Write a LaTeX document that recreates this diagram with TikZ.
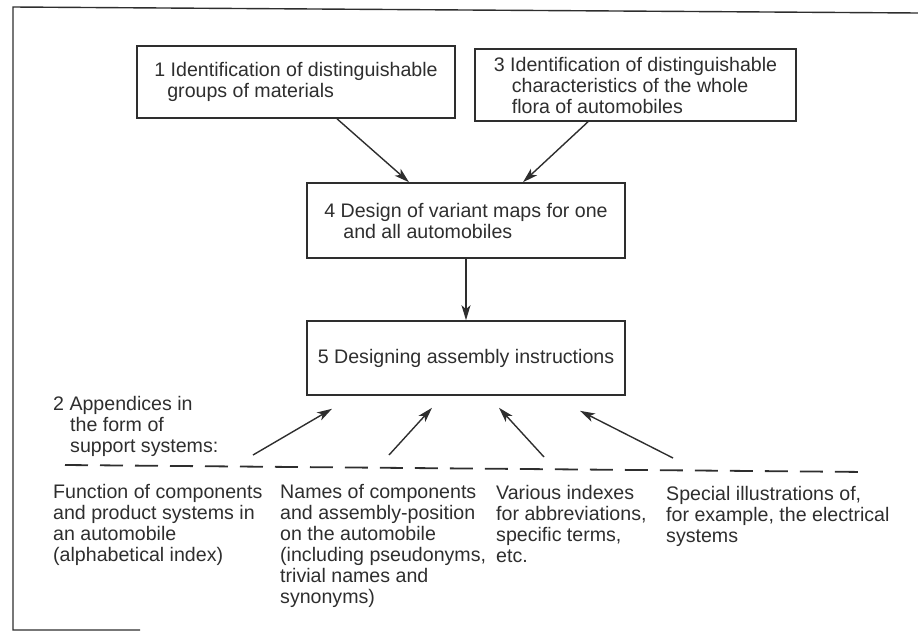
\documentclass[tikz,border=0pt]{standalone}
\usepackage{fontspec}
\setmainfont{Liberation Sans}
\usetikzlibrary{arrows.meta}
\newcommand\dtxt{\fontsize{19.6}{21}\selectfont}
\definecolor{ink}{gray}{0.18}
\begin{document}
\begin{tikzpicture}[x=1pt,y=-1pt,
  every node/.style={text=ink},
  box/.style={draw=ink, line width=1.6pt, inner sep=0pt, align=left, font=\dtxt},
  arr/.style={draw=ink, line width=1.4pt, -{Stealth[length=15pt,width=9pt,inset=4pt]}},
  lbl/.style={inner sep=0pt, anchor=base west, font=\dtxt},
  frameline/.style={draw=ink, line width=1.4pt},
  dashline/.style={draw=ink, line width=1.8pt, dash pattern=on 23pt off 12pt}]
\useasboundingbox (0,0) rectangle (918,632);
% frame
\coordinate (f1) at (13,630);
\coordinate (f2) at (13,7);
\coordinate (f3) at (918,13);
\coordinate (f4) at (140,630);
\draw[frameline] (f4) -- (f1) -- (f2) -- (f3);
% boxes
\node[box, minimum width=318pt, minimum height=72pt] (b1) at (296,82)
  {1 Identification of distinguishable\\\hspace*{13pt}groups of materials};
\node[box, minimum width=321pt, minimum height=72pt] (b3) at (635.5,85)
  {3 Identification of distinguishable\\\hspace*{18pt}characteristics of the whole\\\hspace*{18pt}flora of automobiles};
\node[box, minimum width=318pt, minimum height=75pt] (b4) at (466,220.5)
  {4 Design of variant maps for one\\\hspace*{19pt}and all automobiles};
\node[box, minimum width=318pt, minimum height=74pt] (b5) at (466,358)
  {5 Designing assembly instructions};
% arrows between boxes
\draw[arr] ([xshift=41pt]b1.south) -- ([xshift=-57pt]b4.north);
\draw[arr] ([xshift=-47.5pt]b3.south) -- ([xshift=57pt]b4.north);
\draw[arr] (b4.south) -- (b5.north);
% appendices label
\node[lbl] (app) at (53,410) {\begin{tabular}[t]{@{}l@{}}2 Appendices in\\\hspace*{17pt}the form of\\\hspace*{17pt}support systems:\end{tabular}};
% arrows from appendices
\coordinate (s1) at (253,455);
\coordinate (s2) at (389,455);
\coordinate (s3) at (544,457);
\coordinate (s4) at (673,458);
\draw[arr] (s1) -- ([xshift=-134pt,yshift=-13pt]b5.south);
\draw[arr] (s2) -- ([xshift=-34pt,yshift=-12pt]b5.south);
\draw[arr] (s3) -- ([xshift=33pt,yshift=-12pt]b5.south);
\draw[arr] (s4) -- ([xshift=114pt,yshift=-15pt]b5.south);
% dashed line
\coordinate (d1) at (65,465);
\coordinate (d2) at (867,472);
\draw[dashline] (d1) -- (d2);
% columns
\node[lbl] (c1) at (53,498) {\begin{tabular}[t]{@{}l@{}}Function of components\\and product systems in\\an automobile\\(alphabetical index)\end{tabular}};
\node[lbl] (c2) at (280,498) {\begin{tabular}[t]{@{}l@{}}Names of components\\and assembly-position\\on the automobile\\(including pseudonyms,\\trivial names and\\synonyms)\end{tabular}};
\node[lbl] (c3) at (496,499) {\begin{tabular}[t]{@{}l@{}}Various indexes\\for abbreviations,\\specific terms,\\etc.\end{tabular}};
\node[lbl] (c4) at (666,500) {\begin{tabular}[t]{@{}l@{}}Special illustrations of,\\for example, the electrical\\systems\end{tabular}};
\end{tikzpicture}
\end{document}
